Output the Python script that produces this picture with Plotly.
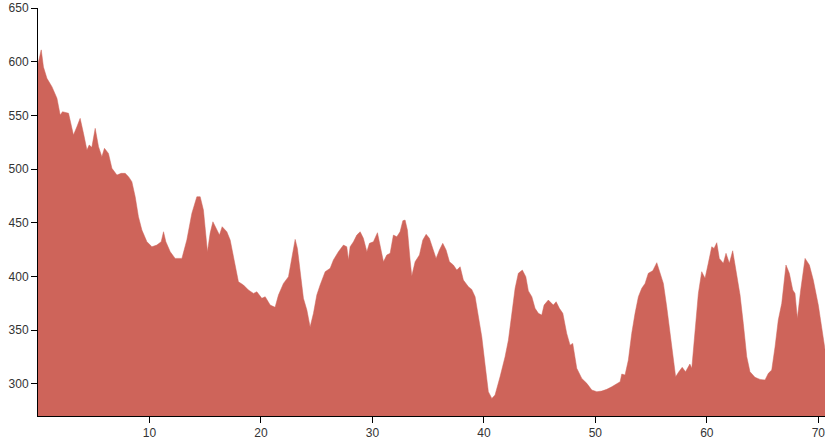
import plotly.graph_objects as go

distance_km = [0.0, 0.29, 0.49, 0.80, 1.25, 1.70, 1.99, 2.20, 2.74, 3.18, 3.49, 3.78, 4.08, 4.39, 4.59, 4.83,
               5.13, 5.43, 5.73, 5.96, 6.32, 6.63, 7.08, 7.46, 7.82, 8.12, 8.42, 8.72, 9.01, 9.32, 9.77,
               10.22, 10.66, 11.05, 11.26, 11.47, 11.86, 12.30, 12.91, 13.35, 13.80, 14.25, 14.55, 14.84,
               15.20, 15.44, 15.69, 15.98, 16.28, 16.52, 16.94, 17.24, 17.53, 17.98, 18.43, 18.88, 19.33,
               19.63, 20.08, 20.38, 20.83, 21.27, 21.57, 22.02, 22.47, 22.77, 23.07, 23.27, 23.52, 23.81,
               24.12, 24.41, 24.71, 25.01, 25.31, 25.76, 26.21, 26.50, 26.95, 27.40, 27.70, 27.85, 28.00,
               28.30, 28.60, 28.90, 29.19, 29.50, 29.73, 30.09, 30.45, 30.69, 30.99, 31.29, 31.59, 31.88,
               32.19, 32.48, 32.73, 32.93, 33.14, 33.38, 33.53, 33.83, 34.22, 34.52, 34.82, 35.11, 35.42,
               35.71, 36.01, 36.31, 36.61, 36.91, 37.26, 37.57, 37.87, 38.16, 38.61, 38.91, 39.21, 39.51,
               39.81, 40.11, 40.40, 40.71, 41.00, 41.45, 41.90, 42.20, 42.50, 42.80, 43.09, 43.45, 43.76,
               43.99, 44.30, 44.59, 44.89, 45.19, 45.40, 45.78, 46.23, 46.48, 46.77, 47.08, 47.43, 47.73,
               47.97, 48.33, 48.78, 49.23, 49.68, 50.13, 50.57, 51.02, 51.47, 51.92, 52.22, 52.37, 52.66,
               52.96, 53.26, 53.56, 53.86, 54.16, 54.46, 54.75, 55.15, 55.51, 55.80, 56.10, 56.40, 56.70,
               57.00, 57.20, 57.49, 57.79, 58.09, 58.48, 58.65, 58.94, 59.24, 59.54, 59.84, 60.13, 60.44,
               60.65, 60.89, 61.12, 61.48, 61.72, 62.02, 62.32, 62.62, 62.98, 63.27, 63.58, 63.87, 64.32,
               64.77, 65.22, 65.52, 65.82, 66.12, 66.41, 66.72, 66.92, 67.10, 67.40, 67.71, 67.91, 68.12,
               68.42, 68.81, 69.20, 69.55, 70.00, 70.30, 70.51, 70.60]

elevation_m = [598, 611, 595, 584.5, 576.7, 566, 550.3, 553.4, 552, 531.7, 539.4, 547.2, 533.3, 517.7, 522.4, 520.2,
               537.9, 520.8, 511.5, 519.3, 514.6, 500.7, 494.4, 496, 496, 492.9, 488.2, 474.2, 455.6, 443.2, 432.3,
               427.6, 429.2, 432.3, 441.6, 432.3, 423, 416.8, 416.8, 433.9, 458.7, 474.2, 474.2, 461.8,
               423, 440.1, 450.9, 444.8, 438.5, 446.3, 441.6, 433.9, 418.3, 395, 392, 387.3, 384.2,
               385.7, 379.6, 381.1, 373.3, 371.2, 382.6, 393.5, 399.7, 415.3, 434.5, 426.1, 404.4, 379.6,
               368.7, 353, 365.6, 382.6, 392, 404.4, 407.5, 415.3, 423, 429.2, 427.6, 415.3, 427.6,
               432.3, 438.5, 441.6, 435.5, 423, 430.8, 432.3, 440.7, 427.6, 413.7, 420, 421.5, 438.5,
               436.9, 441.6, 451.9, 452.5, 443.2, 415.3, 400.4, 413.7, 420, 433.9, 439.2, 435.5, 424.6,
               416.8, 424.6, 430.8, 424.6, 413.7, 410.6, 405.9, 409, 396.6, 390.4, 387.9, 381.1, 364,
               343.8, 317.4, 292.6, 286.4, 289.5, 306.5, 325.2, 340.7, 364, 388.9, 402.9, 405.9, 399.7,
               386.5, 381.1, 370.3, 365.6, 364, 373.3, 378, 373.3, 376.4, 370.3, 365.6, 346.9, 336,
               337.6, 314.4, 305, 300.4, 294.2, 292.6, 293.2, 294.8, 297.2, 300.4, 301.9, 309.1, 308.1,
               322.1, 346.9, 365.6, 381.1, 388.9, 393.5, 402.9, 405.3, 412.8, 402.9, 393.5, 371.8, 346,
               324, 306.5, 311.2, 315.3, 311.2, 318.4, 314.4, 350, 384.2, 404.4, 398.2, 412.2, 427.6,
               426.1, 431.4, 416.8, 412.2, 421.5, 412.2, 423.9, 405.9, 382.6, 356.3, 325.2, 311.2, 306,
               304.1, 303.5, 309.7, 312.8, 334.5, 359.4, 374.9, 393.5, 410.6, 402.9, 387.3, 384.2, 360.9,
               387.3, 416.8, 410.6, 396.6, 373.3, 350, 336, 332]

x_ticks = [10, 20, 30, 40, 50, 60, 70]
y_ticks = [300, 350, 400, 450, 500, 550, 600, 650]

fig = go.Figure()
fig.add_trace(go.Scatter(
    x=distance_km, y=elevation_m,
    mode="lines", fill="tozeroy",
    fillcolor="rgb(206,100,90)",
    line=dict(color="rgb(206,100,90)", width=0.5),
    hoverinfo="x+y", showlegend=False,
))

axis_font = dict(family="Liberation Sans, Arial, sans-serif", size=12, color="#333")
fig.update_layout(
    width=827, height=443,
    margin=dict(l=38, r=2, t=8, b=27, autoexpand=False),
    paper_bgcolor="white", plot_bgcolor="white",
    xaxis=dict(range=[0, 70.6], tickvals=x_ticks, showgrid=False, zeroline=False,
               showline=True, linecolor="black", linewidth=1, automargin=False,
               ticks="outside", ticklen=6, tickcolor="black", tickfont=axis_font),
    yaxis=dict(range=[270, 650], tickvals=y_ticks, showgrid=False, zeroline=False,
               showline=True, linecolor="black", linewidth=1, automargin=False,
               ticks="outside", ticklen=6, tickcolor="black", tickfont=axis_font),
)
fig.write_html("out.html",
               config={"displayModeBar": False},
               post_script="document.body.style.margin='0';document.body.style.overflow='hidden';")
